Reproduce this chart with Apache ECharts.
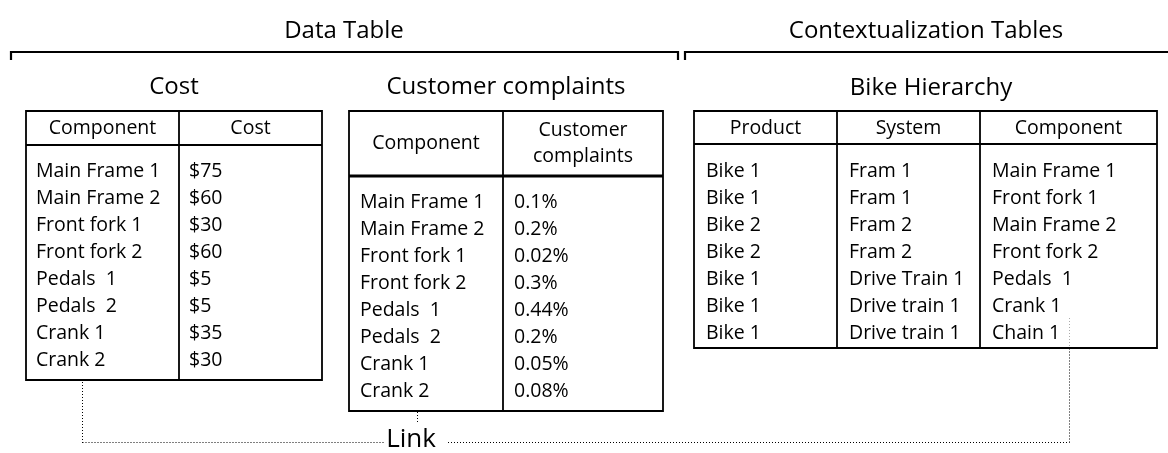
<!DOCTYPE html>
<html>
<head>
<meta charset="utf-8">
<script src="https://cdn.jsdelivr.net/npm/echarts@6/dist/echarts.min.js"></script>
<style>
html,body{margin:0;padding:0;background:#fff;}
#chart{width:1168px;height:453px;}
</style>
</head>
<body>
<div id="chart"></div>
<script>
// ---- data ----
const groupTitles = ['Data Table', 'Contextualization Tables'];
const tableTitles = ['Cost', 'Customer complaints', 'Bike Hierarchy'];
const costHeaders = ['Component', 'Cost'];
const costComponents = ['Main Frame 1', 'Main Frame 2', 'Front fork 1', 'Front fork 2', 'Pedals  1', 'Pedals  2', 'Crank 1', 'Crank 2'];
const costValues = ['$75', '$60', '$30', '$60', '$5', '$5', '$35', '$30'];
const complaintHeaders = ['Component', 'Customer\ncomplaints'];
const complaintComponents = ['Main Frame 1', 'Main Frame 2', 'Front fork 1', 'Front fork 2', 'Pedals  1', 'Pedals  2', 'Crank 1', 'Crank 2'];
const complaintValues = ['0.1%', '0.2%', '0.02%', '0.3%', '0.44%', '0.2%', '0.05%', '0.08%'];
const hierarchyHeaders = ['Product', 'System', 'Component'];
const hierarchyProducts = ['Bike 1', 'Bike 1', 'Bike 2', 'Bike 2', 'Bike 1', 'Bike 1', 'Bike 1'];
const hierarchySystems = ['Fram 1', 'Fram 1', 'Fram 2', 'Fram 2', 'Drive Train 1', 'Drive train 1', 'Drive train 1'];
const hierarchyComponents = ['Main Frame 1', 'Front fork 1', 'Main Frame 2', 'Front fork 2', 'Pedals  1', 'Crank 1', 'Chain 1'];
const linkLabel = 'Link';

// ---- layout ----
const FONT = '"Open Sans", "Noto Sans", sans-serif';
const CELL = '19.5px ' + FONT;
const TITLE = '24px ' + FONT;
const ROW = 27;
const els = [];
function txt(x, y, s, font, align) {
  els.push({type: 'text', x: x, y: y, silent: true,
    style: {text: s, font: font, fill: '#000', textAlign: align || 'left', textVerticalAlign: 'middle', lineHeight: 26}});
}
function ln(x1, y1, x2, y2, w, dash, color) {
  els.push({type: 'line', silent: true, shape: {x1: x1, y1: y1, x2: x2, y2: y2},
    style: {stroke: color || '#000', lineWidth: w, lineDash: dash || null}});
}
function table(t) {
  const {left, right, top, bottom, headBottom, divs, headerY, headers, cols, rowY0, pad, headW} = t;
  els.push({type: 'rect', silent: true, shape: {x: left, y: top, width: right - left, height: bottom - top},
    style: {fill: 'none', stroke: '#000', lineWidth: 1.8}});
  ln(left, headBottom, right, headBottom, headW || 1.8);
  divs.forEach(d => ln(d, top, d, bottom, 1.8));
  const edges = [left].concat(divs).concat([right]);
  headers.forEach((h, i) => txt((edges[i] + edges[i + 1]) / 2, headerY, h, CELL, 'center'));
  cols.forEach((col, i) => col.forEach((v, r) => txt(edges[i] + pad, rowY0 + r * ROW, v, CELL)));
}

// group titles + brackets
txt(344, 31, groupTitles[0], TITLE, 'center');
txt(926, 31, groupTitles[1], TITLE, 'center');
els.push({type: 'polyline', silent: true, shape: {points: [[11, 60], [11, 52], [678, 52], [678, 60]]},
  style: {stroke: '#000', lineWidth: 2.2, fill: 'none'}});
els.push({type: 'polyline', silent: true, shape: {points: [[685, 60], [685, 52], [1170, 52]]},
  style: {stroke: '#000', lineWidth: 2.2, fill: 'none'}});

// table titles
txt(174, 87, tableTitles[0], TITLE, 'center');
txt(506, 87, tableTitles[1], TITLE, 'center');
txt(931, 88, tableTitles[2], TITLE, 'center');

table({left: 26, right: 322, top: 111, bottom: 380, headBottom: 145, divs: [179], headerY: 128,
  headers: costHeaders, cols: [costComponents, costValues], rowY0: 171, pad: 10});
table({left: 349, right: 663, top: 111, bottom: 411, headBottom: 176, headW: 2.8, divs: [503], headerY: 143,
  headers: complaintHeaders, cols: [complaintComponents, complaintValues], rowY0: 202, pad: 11});
table({left: 694, right: 1157, top: 111, bottom: 348, headBottom: 144, divs: [837, 980], headerY: 128,
  headers: hierarchyHeaders, cols: [hierarchyProducts, hierarchySystems, hierarchyComponents], rowY0: 171, pad: 12});

// link lines
const DOT = [1, 2];
ln(82.5, 382, 82.5, 443, 1, DOT);
ln(82.5, 442.5, 384, 442.5, 1, DOT);
ln(448, 442.5, 1069.5, 442.5, 1, DOT);
ln(1069.5, 442.5, 1069.5, 349, 1, DOT);
ln(1069.5, 346, 1069.5, 318, 1, DOT, '#aaa');
ln(417.5, 412, 417.5, 423, 1, DOT);
txt(411, 440, linkLabel, '26px ' + FONT, 'center');

const chart = echarts.init(document.getElementById('chart'), null, {renderer: 'canvas'});
chart.setOption({backgroundColor: '#fff', animation: false, graphic: {elements: els}});
</script>
</body>
</html>
